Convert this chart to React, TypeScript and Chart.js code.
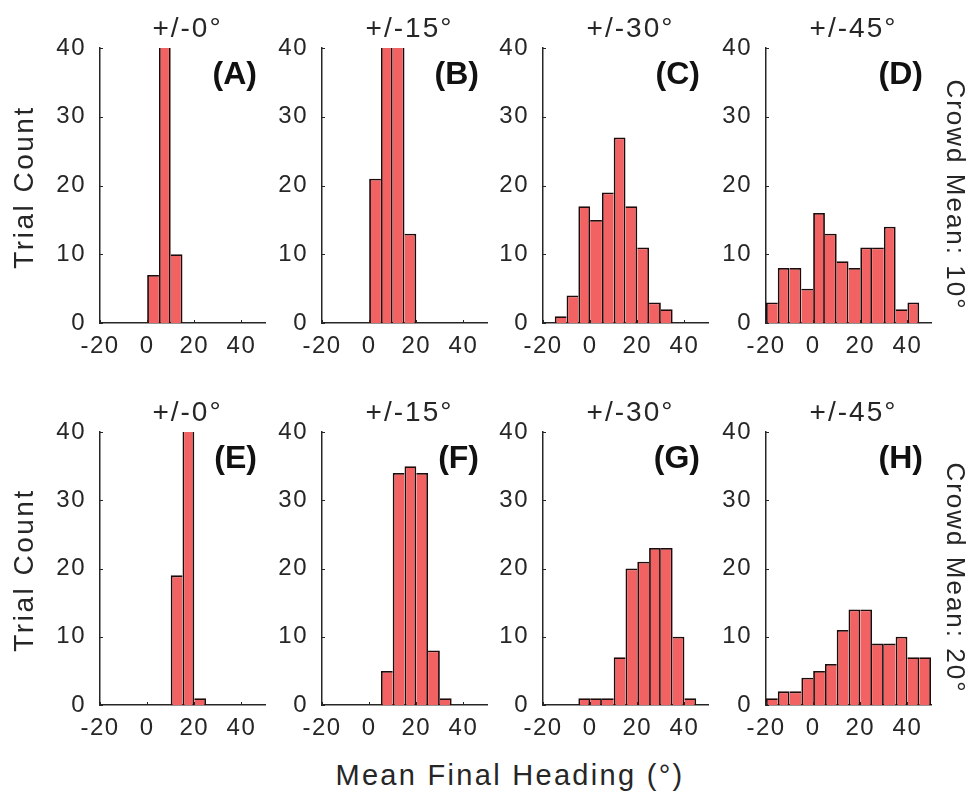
import React, { useEffect, useRef } from "react";
import { Chart, registerables } from "chart.js";

Chart.register(...registerables);

// ---------- data ----------
const xTicks = [-20, 0, 20, 40];
const yTicks = [0, 10, 20, 30, 40];
const X_MIN = -20;
const X_MAX = 50;
const Y_MIN = 0;
const Y_MAX = 40;

// bin centres (bin width 5) and trial counts per panel
const binsA = [2.5, 7.5, 12.5];
const countsA = [7, 99, 10];
const binsB = [2.5, 7.5, 12.5, 17.5];
const countsB = [21, 41, 41, 13];
const binsC = [-12.5, -7.5, -2.5, 2.5, 7.5, 12.5, 17.5, 22.5, 27.5, 32.5];
const countsC = [1, 4, 17, 15, 19, 27, 17, 11, 3, 2];
const binsD = [-17.5, -12.5, -7.5, -2.5, 2.5, 7.5, 12.5, 17.5, 22.5, 27.5, 32.5, 37.5, 42.5];
const countsD = [3, 8, 8, 5, 16, 13, 9, 8, 11, 11, 14, 2, 3];
const binsE = [12.5, 17.5, 22.5];
const countsE = [19, 96, 1];
const binsF = [7.5, 12.5, 17.5, 22.5, 27.5, 32.5];
const countsF = [5, 34, 35, 34, 8, 1];
const binsG = [-2.5, 2.5, 7.5, 12.5, 17.5, 22.5, 27.5, 32.5, 37.5, 42.5];
const countsG = [1, 1, 1, 7, 20, 21, 23, 23, 10, 1];
const binsH = [-17.5, -12.5, -7.5, -2.5, 2.5, 7.5, 12.5, 17.5, 22.5, 27.5, 32.5, 37.5, 42.5, 47.5];
const countsH = [1, 2, 2, 4, 5, 6, 11, 14, 14, 9, 9, 10, 7, 7];

const panelTitles = ["+/-0°", "+/-15°", "+/-30°", "+/-45°", "+/-0°", "+/-15°", "+/-30°", "+/-45°"];
const panelLetters = ["(A)", "(B)", "(C)", "(D)", "(E)", "(F)", "(G)", "(H)"];
const crowdMeanLabels = ["Crowd Mean: 10°", "Crowd Mean: 20°"];
const yAxisLabel = "Trial Count";
const xAxisLabel = "Mean Final Heading (°)";

const panelBins = [binsA, binsB, binsC, binsD, binsE, binsF, binsG, binsH];
const panelCounts = [countsA, countsB, countsC, countsD, countsE, countsF, countsG, countsH];

// ---------- layout / style ----------
const COL_LEFT = [100, 322, 543, 766];
const PLOT_W = 165;
const ROW_TOP = [48, 432];
const ROW_H = [275, 273];
const PAD_L = 70;
const PAD_T = 40;
const PAD_R = 20;
const PAD_B = 50;

const FILL = "#F26262";
const EDGE = "#1e0c0c";
const AXIS = "#262626";
const TEXT = "#262626";
const FONT = "'Liberation Sans', Arial, Helvetica, sans-serif";
const BW = 1.8;

const tickMarks = {
  id: "tickMarks",
  beforeDraw(chart: any) {
    chart.ctx.letterSpacing = "1.5px";
  },
  afterDraw(chart: any) {
    const { ctx, chartArea } = chart;
    const xs = chart.scales.x;
    const ys = chart.scales.y;
    ctx.save();
    ctx.strokeStyle = AXIS;
    ctx.lineWidth = 1;
    ctx.beginPath();
    xTicks.forEach((v) => {
      const px = Math.round(xs.getPixelForValue(v)) + 0.5;
      ctx.moveTo(px, chartArea.bottom);
      ctx.lineTo(px, chartArea.bottom - 3);
    });
    yTicks.forEach((v) => {
      const py = Math.round(ys.getPixelForValue(v)) + 0.5;
      ctx.moveTo(chartArea.left, py);
      ctx.lineTo(chartArea.left + 3, py);
    });
    ctx.stroke();
    ctx.restore();
  },
};

function Panel({ idx }: { idx: number }) {
  const ref = useRef<HTMLCanvasElement | null>(null);
  const col = idx % 4;
  const row = Math.floor(idx / 4);
  const left = COL_LEFT[col] - PAD_L;
  const top = ROW_TOP[row] - PAD_T;
  const width = PAD_L + PLOT_W + PAD_R;
  const height = PAD_T + ROW_H[row] + PAD_B;

  useEffect(() => {
    const bins = panelBins[idx];
    const counts = panelCounts[idx];
    const n = counts.length;
    const chart = new Chart(ref.current as HTMLCanvasElement, {
      type: "bar",
      data: {
        datasets: [
          {
            data: bins.map((b, i) => ({ x: b, y: counts[i] })),
            backgroundColor: FILL,
            borderColor: EDGE,
            borderWidth: (c: any) => {
              const i = c.dataIndex;
              const l = i === 0 || counts[i - 1] < counts[i] ? BW : 0;
              const r = i === n - 1 || counts[i + 1] <= counts[i] ? BW : 0;
              return { top: BW, left: l, right: r, bottom: 0 };
            },
            borderSkipped: "start",
            barPercentage: 1,
            categoryPercentage: 1,
            inflateAmount: 0,
            clip: { left: 4, right: 4, top: 0, bottom: 4 },
          } as any,
        ],
      },
      options: {
        responsive: false,
        animation: false,
        devicePixelRatio: 1,
        layout: { padding: { left: 0, top: PAD_T, right: PAD_R, bottom: 0 } },
        plugins: {
          legend: { display: false },
          tooltip: { enabled: false },
          title: { display: false },
        },
        scales: {
          x: {
            type: "linear",
            min: X_MIN,
            max: X_MAX,
            offset: false,
            grid: { display: false, drawTicks: false },
            border: { display: true, color: AXIS, width: 1.5 },
            ticks: {
              font: { size: 24, family: FONT },
              color: TEXT,
              padding: 9,
              maxRotation: 0,
              autoSkip: false,
            },
            afterBuildTicks: (s: any) => {
              s.ticks = xTicks.map((v) => ({ value: v }));
            },
            afterFit: (s: any) => {
              s.height = PAD_B;
            },
          },
          y: {
            type: "linear",
            min: Y_MIN,
            max: Y_MAX,
            grid: { display: false, drawTicks: false },
            border: { display: true, color: AXIS, width: 1.5 },
            ticks: {
              font: { size: 24, family: FONT },
              color: TEXT,
              padding: 14,
            },
            afterBuildTicks: (s: any) => {
              s.ticks = yTicks.map((v) => ({ value: v }));
            },
            afterFit: (s: any) => {
              s.width = PAD_L;
            },
          },
        },
      } as any,
      plugins: [tickMarks],
    });
    return () => chart.destroy();
  }, [idx]);

  return (
    <canvas
      ref={ref}
      width={width}
      height={height}
      style={{ position: "absolute", left, top, width, height }}
    />
  );
}

function Label({
  text,
  cx,
  cy,
  size,
  rotate = 0,
  spacing = 1,
}: {
  text: string;
  cx: number;
  cy: number;
  size: number;
  rotate?: number;
  spacing?: number;
}) {
  return (
    <div
      style={{
        position: "absolute",
        left: cx,
        top: cy,
        transform: `translate(-50%, -50%) rotate(${rotate}deg)`,
        fontFamily: FONT,
        fontSize: size,
        letterSpacing: spacing,
        color: TEXT,
        whiteSpace: "nowrap",
        lineHeight: 1,
      }}
    >
      {text}
    </div>
  );
}

export default function App() {
  const panels = [0, 1, 2, 3, 4, 5, 6, 7];
  return (
    <div
      style={{
        position: "absolute",
        left: 0,
        top: 0,
        width: 972,
        height: 796,
        background: "#fff",
        overflow: "hidden",
      }}
    >
      {panels.map((i) => (
        <Panel key={i} idx={i} />
      ))}
      {panels.map((i) => {
        const col = i % 4;
        const row = Math.floor(i / 4);
        return (
          <React.Fragment key={"t" + i}>
            <Label
              text={panelTitles[i]}
              cx={COL_LEFT[col] + PLOT_W / 2 + 5}
              cy={ROW_TOP[row] - 20}
              size={28}
              spacing={2}
            />
            <div
              style={{
                position: "absolute",
                right: 972 - (COL_LEFT[col] + PLOT_W - 8),
                top: ROW_TOP[row] + 25,
                transform: "translateY(-50%)",
                fontFamily: FONT,
                fontSize: 32,
                fontWeight: 700,
                color: "#111",
                whiteSpace: "nowrap",
                lineHeight: 1,
              }}
            >
              {panelLetters[i]}
            </div>
          </React.Fragment>
        );
      })}
      {[0, 1].map((r) => (
        <React.Fragment key={"r" + r}>
          <Label
            text={yAxisLabel}
            cx={24}
            cy={ROW_TOP[r] + ROW_H[r] / 2 + 1}
            size={28}
            spacing={2.5}
            rotate={-90}
          />
          <Label
            text={crowdMeanLabels[r]}
            cx={956}
            cy={ROW_TOP[r] + ROW_H[r] / 2 + 9}
            size={26}
            rotate={90}
            spacing={2}
          />
        </React.Fragment>
      ))}
      <Label text={xAxisLabel} cx={510} cy={775} size={29} spacing={2.3} />
    </div>
  );
}
